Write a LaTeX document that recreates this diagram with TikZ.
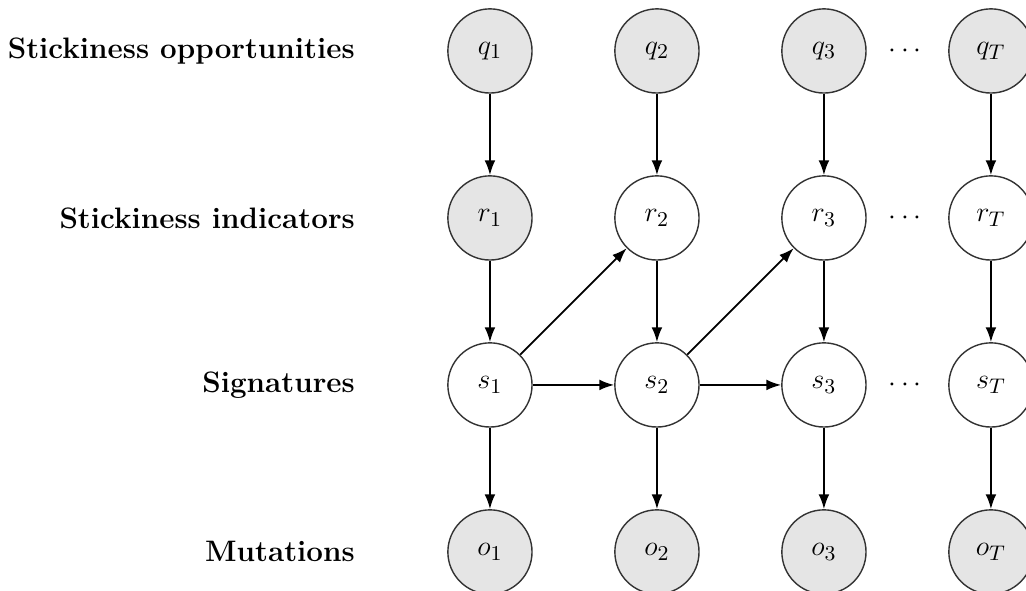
\documentclass[tikz,border=0pt]{standalone}
\usepackage{amsmath, amsfonts, amssymb}
\usepackage{tikz}
\usetikzlibrary{arrows.meta}
\newcommand{\bigtxt}{\fontsize{12.6}{15}\selectfont}
\tikzset{
  var/.style={circle, draw=black!80, line width=0.6pt, minimum size=1.26cm, inner sep=0pt, font=\bigtxt},
  obs/.style={var, fill=gray!20},
  arr/.style={-{Latex[length=2.2mm,width=1.6mm]}, line width=0.8pt},
  rowname/.style={anchor=east, font=\bigtxt\bfseries}
}

\begin{document}
\begin{tikzpicture}
\useasboundingbox (-7.335,0.763) rectangle (8.025,-8.07);
% row names
\node[rowname] (lq) at (-1.9,0) {Stickiness opportunities};
\node[rowname] (lr) at (-1.9,-2.5) {Stickiness indicators};
\node[rowname] (ls) at (-1.9,-5) {Signatures};
\node[rowname] (lo) at (-1.9,-7.5) {Mutations};
% opportunities
\node[obs] (q1) at (0,0) {$q_1$};
\node[obs] (q2) at (2.5,0) {$q_2$};
\node[obs] (q3) at (5,0) {$q_3$};
\node[obs] (qT) at (7.5,0) {$q_T$};
% indicators
\node[obs] (r1) at (0,-2.5) {$r_1$};
\node[var] (r2) at (2.5,-2.5) {$r_2$};
\node[var] (r3) at (5,-2.5) {$r_3$};
\node[var] (rT) at (7.5,-2.5) {$r_T$};
% signatures
\node[var] (s1) at (0,-5) {$s_1$};
\node[var] (s2) at (2.5,-5) {$s_2$};
\node[var] (s3) at (5,-5) {$s_3$};
\node[var] (sT) at (7.5,-5) {$s_T$};
% mutations
\node[obs] (o1) at (0,-7.5) {$o_1$};
\node[obs] (o2) at (2.5,-7.5) {$o_2$};
\node[obs] (o3) at (5,-7.5) {$o_3$};
\node[obs] (oT) at (7.5,-7.5) {$o_T$};
% dots
\node[font=\bigtxt] (dq) at (6.25,0) {$\cdots$};
\node[font=\bigtxt] (dr) at (6.25,-2.5) {$\cdots$};
\node[font=\bigtxt] (ds) at (6.25,-5) {$\cdots$};
% arrows
\draw[arr] (q1) -- (r1);
\draw[arr] (q2) -- (r2);
\draw[arr] (q3) -- (r3);
\draw[arr] (qT) -- (rT);
\draw[arr] (r1) -- (s1);
\draw[arr] (r2) -- (s2);
\draw[arr] (r3) -- (s3);
\draw[arr] (rT) -- (sT);
\draw[arr] (s1) -- (o1);
\draw[arr] (s2) -- (o2);
\draw[arr] (s3) -- (o3);
\draw[arr] (sT) -- (oT);
\draw[arr] (s1) -- (s2);
\draw[arr] (s2) -- (s3);
\draw[arr] (s1) -- (r2);
\draw[arr] (s2) -- (r3);
\end{tikzpicture}
\end{document}
